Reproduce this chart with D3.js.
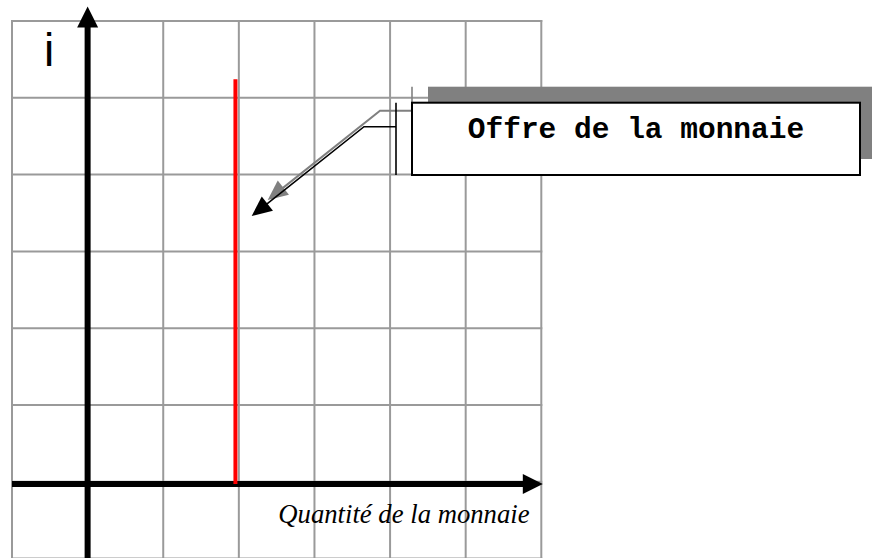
<!DOCTYPE html>
<html>
<head>
<meta charset="utf-8">
<script src="https://cdn.jsdelivr.net/npm/d3@7"></script>
<style>
html,body{margin:0;padding:0;background:#fff;}
svg{display:block;}
</style>
</head>
<body>
<svg id="chart" width="872" height="558"></svg>
<script>
// ---- data ----
const gridX = [-1, 0, 1, 2, 3, 4, 5, 6];
const gridY = [-1, 0, 1, 2, 3, 4, 5, 6];
const moneySupply = [1.955];          // vertical supply line position (quantity)
const supplyRange = [-0.03, 5.24];     // interest-rate span of the supply line
const axisEnds = [6.02, 6.19];         // x-axis and y-axis arrow tips
const axisOrigin = [0, -0.03];         // axis crossing
const calloutTarget = [2.17, 3.46];    // where the callout arrow points
const yLabel = "i";
const xLabel = "Quantité de la monnaie";
const calloutText = "Offre de la monnaie";

const svg = d3.select("#chart");
const x = d3.scaleLinear().domain([-1, 6]).range([12, 541.3]);
const y = d3.scaleLinear().domain([-1, 6]).range([558.6, 21]);

// grid
const grid = svg.append("g").attr("stroke", "#9a9a9a").attr("stroke-width", 2);
grid.selectAll("line.v").data(gridX).join("line").attr("class", "v")
  .attr("x1", d => x(d)).attr("x2", d => x(d))
  .attr("y1", y(6) - 1).attr("y2", y(-1));
grid.selectAll("line.h").data(gridY).join("line").attr("class", "h")
  .attr("y1", d => y(d)).attr("y2", d => y(d))
  .attr("x1", x(-1) - 1).attr("x2", x(6) + 1);

// axes
const ox = x(axisOrigin[0]), oy = y(axisOrigin[1]);
svg.append("line").attr("x1", ox).attr("x2", ox)
  .attr("y1", y(-1)).attr("y2", y(axisEnds[1]) + 18)
  .attr("stroke", "#000").attr("stroke-width", 6);
svg.append("path")
  .attr("d", d3.line()([[ox, y(axisEnds[1])], [ox - 10.5, y(axisEnds[1]) + 21], [ox + 10.5, y(axisEnds[1]) + 21]]) + "Z")
  .attr("fill", "#000");
svg.append("line").attr("y1", oy).attr("y2", oy)
  .attr("x1", x(-1)).attr("x2", x(axisEnds[0]) - 18)
  .attr("stroke", "#000").attr("stroke-width", 6);
svg.append("path")
  .attr("d", d3.line()([[x(axisEnds[0]), oy], [x(axisEnds[0]) - 20, oy - 10], [x(axisEnds[0]) - 20, oy + 10]]) + "Z")
  .attr("fill", "#000");

// supply line
svg.selectAll("line.supply").data(moneySupply).join("line").attr("class", "supply")
  .attr("x1", d => x(d)).attr("x2", d => x(d))
  .attr("y1", y(supplyRange[0])).attr("y2", y(supplyRange[1]))
  .attr("stroke", "#ff0000").attr("stroke-width", 4);

// labels
svg.append("text").attr("x", 44).attr("y", 66)
  .attr("font-family", "'Liberation Sans', Arial, sans-serif")
  .attr("font-size", 46).attr("fill", "#000").text(yLabel);
svg.append("text").attr("x", 278.3).attr("y", 522.7)
  .attr("font-family", "'Liberation Serif', 'Times New Roman', serif")
  .attr("font-style", "italic").attr("font-size", 26.7).attr("fill", "#000").text(xLabel);

// callout
function arrowHead(g, tip, from, color) {
  const dx = from[0] - tip[0], dy = from[1] - tip[1];
  const L = Math.hypot(dx, dy), ux = dx / L, uy = dy / L;
  const len = 20, hw = 9;
  const bx = tip[0] + ux * len, by = tip[1] + uy * len;
  g.append("path")
    .attr("d", d3.line()([tip, [bx - uy * hw, by + ux * hw], [bx + uy * hw, by - ux * hw]]) + "Z")
    .attr("fill", color);
}
function callout(g, off, color, lineW, fill, boxStroke) {
  const tip = [x(calloutTarget[0]) + off, y(calloutTarget[1]) - off];
  const elbow = [364 + off, 126.7 - off];
  const barX = 396 + off;
  const box = {x0: 412 + off, y0: 102.7 - off, x1: 860 + off, y1: 175 - off};
  g.append("rect").attr("x", box.x0).attr("y", box.y0)
    .attr("width", box.x1 - box.x0).attr("height", box.y1 - box.y0)
    .attr("fill", fill).attr("stroke", boxStroke).attr("stroke-width", 2);
  g.append("line").attr("x1", barX).attr("x2", barX).attr("y1", box.y0).attr("y2", box.y1)
    .attr("stroke", color).attr("stroke-width", 1.6);
  const s = [tip[0] + (elbow[0] - tip[0]) * 0.1, tip[1] + (elbow[1] - tip[1]) * 0.1];
  g.append("path").attr("d", d3.line()([s, elbow, [barX, elbow[1]]]))
    .attr("fill", "none").attr("stroke", color).attr("stroke-width", lineW);
  arrowHead(g, tip, elbow, color);
}
const shadow = svg.append("g");
callout(shadow, 16, "#808080", 2, "#808080", "none");
const main = svg.append("g");
callout(main, 0, "#000", 1.6, "#fff", "#000");
main.append("text").attr("x", 636).attr("y", 137.5).attr("text-anchor", "middle")
  .attr("font-family", "'Liberation Mono', 'Courier New', monospace")
  .attr("font-weight", "bold").attr("font-size", 29.5).attr("fill", "#000")
  .text(calloutText);
</script>
</body>
</html>
